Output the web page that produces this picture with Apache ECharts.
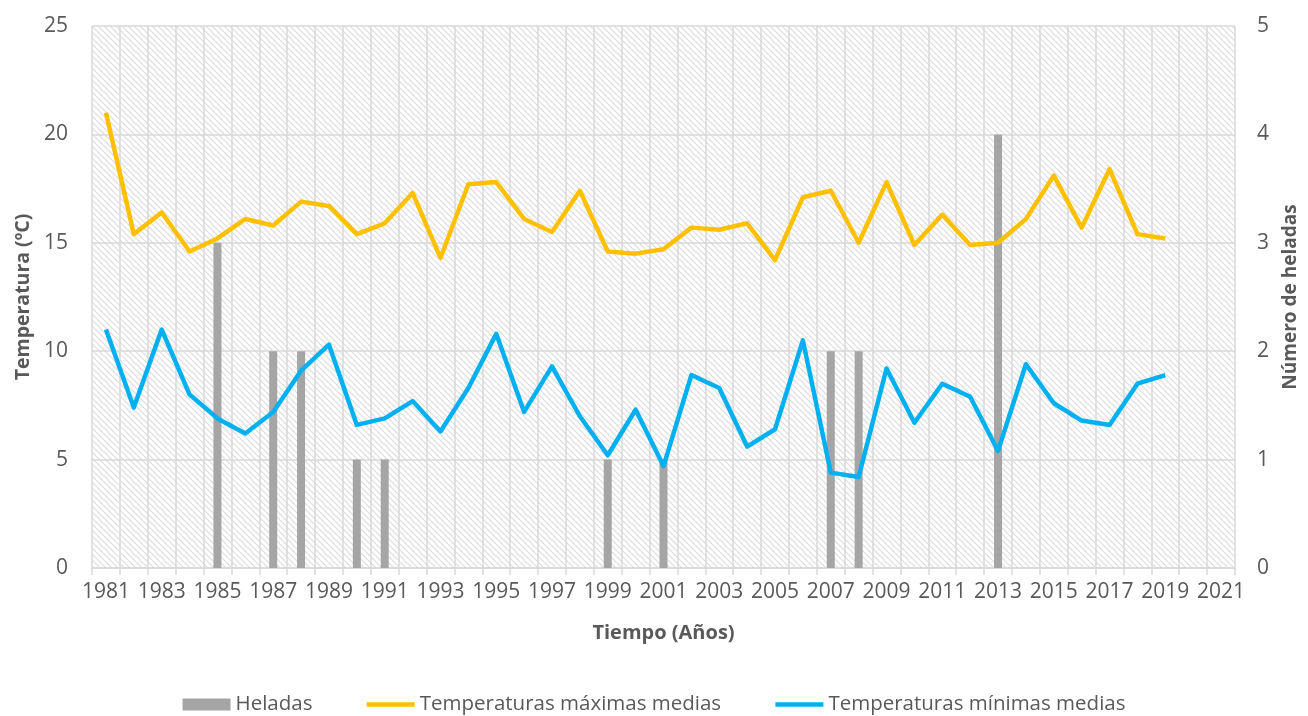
<!DOCTYPE html>
<html>
<head>
<meta charset="utf-8">
<script src="https://cdn.jsdelivr.net/npm/echarts@6/dist/echarts.min.js"></script>
<style>
  html, body { margin: 0; padding: 0; background: #fff; }
  #chart { width: 1308px; height: 716px; }
</style>
</head>
<body>
<div id="chart"></div>
<script>
  // años 1981..2021
  var years = [];
  for (var y = 1981; y <= 2021; y++) years.push(String(y));

  // número de heladas por año (solo los años con heladas)
  var heladas = {1985: 3, 1987: 2, 1988: 2, 1990: 1, 1991: 1, 1999: 1, 2001: 1, 2007: 2, 2008: 2, 2013: 4};

  var tMax = [21.0, 15.4, 16.4, 14.6, 15.2, 16.1, 15.8, 16.9, 16.7, 15.4,
              15.9, 17.3, 14.3, 17.7, 17.8, 16.1, 15.5, 17.4, 14.6, 14.5,
              14.7, 15.7, 15.6, 15.9, 14.2, 17.1, 17.4, 15.0, 17.8, 14.9,
              16.3, 14.9, 15.0, 16.1, 18.1, 15.7, 18.4, 15.4, 15.2];

  var tMin = [11.0, 7.4, 11.0, 8.0, 6.9, 6.2, 7.2, 9.1, 10.3, 6.6,
              6.9, 7.7, 6.3, 8.3, 10.8, 7.2, 9.3, 7.0, 5.2, 7.3,
              4.7, 8.9, 8.3, 5.6, 6.4, 10.5, 4.4, 4.2, 9.2, 6.7,
              8.5, 7.9, 5.4, 9.4, 7.6, 6.8, 6.6, 8.5, 8.9];

  var heladasData = years.map(function (y) { return heladas[y] !== undefined ? heladas[y] : null; });

  // patrón rayado del fondo
  var tile = document.createElement('canvas');
  tile.width = 6; tile.height = 6;
  var ctx = tile.getContext('2d');
  ctx.fillStyle = '#ffffff';
  ctx.fillRect(0, 0, 6, 6);
  ctx.strokeStyle = '#dcdcdc';
  ctx.lineWidth = 1.2;
  ctx.beginPath();
  ctx.moveTo(-1, -1); ctx.lineTo(7, 7);
  ctx.moveTo(-1, 5); ctx.lineTo(1, 7);
  ctx.moveTo(5, -1); ctx.lineTo(7, 1);
  ctx.stroke();

  var textColor = '#595959';
  var gridColor = '#d9d9d9';
  var font = '"Open Sans", sans-serif';

  var myChart = echarts.init(document.getElementById('chart'));
  var option = {
    animation: false,
    textStyle: { fontFamily: font, color: textColor },
    grid: {
      left: 92, right: 70, top: 26, bottom: 148,
      show: true,
      borderWidth: 0,
      backgroundColor: { image: tile, repeat: 'repeat' }
    },
    legend: {
      bottom: -4,
      left: 'center',
      itemGap: 52,
      itemWidth: 48,
      itemHeight: 12,
      textStyle: { fontFamily: font, fontSize: 20.5, color: textColor },
      data: [
        { name: 'Heladas', icon: 'rect' },
        { name: 'Temperaturas máximas medias', itemStyle: { opacity: 0 }, lineStyle: { width: 4.5 } },
        { name: 'Temperaturas mínimas medias', itemStyle: { opacity: 0 }, lineStyle: { width: 4.5 } }
      ]
    },
    xAxis: {
      type: 'category',
      data: years,
      boundaryGap: true,
      name: 'Tiempo (Años)',
      nameLocation: 'middle',
      nameGap: 55,
      nameTextStyle: { fontFamily: font, fontSize: 20, fontWeight: 'bold', color: textColor },
      axisLine: { lineStyle: { color: gridColor, width: 1.5 } },
      axisTick: { show: true, interval: 0, length: 7, lineStyle: { color: gridColor, width: 1.5 } },
      axisLabel: { interval: 1, margin: 14, fontSize: 21, color: textColor, fontFamily: font },
      splitLine: { show: true, interval: 0, lineStyle: { color: gridColor, width: 1.5 } }
    },
    yAxis: [
      {
        type: 'value',
        min: 0, max: 25, interval: 5,
        name: 'Temperatura (ºC)',
        nameLocation: 'middle',
        nameGap: 54,
        nameTextStyle: { fontFamily: font, fontSize: 19.5, fontWeight: 'bold', color: textColor },
        axisLine: { show: false },
        axisTick: { show: false },
        axisLabel: { margin: 24, fontSize: 21, color: textColor, fontFamily: font },
        splitLine: { show: true, lineStyle: { color: gridColor, width: 1.5 } }
      },
      {
        type: 'value',
        min: 0, max: 5, interval: 1,
        name: 'Número de heladas',
        nameLocation: 'middle',
        nameRotate: 90,
        nameGap: 46,
        nameTextStyle: { fontFamily: font, fontSize: 19, fontWeight: 'bold', color: textColor },
        axisLine: { show: false },
        axisTick: { show: false },
        axisLabel: { margin: 22, fontSize: 21, color: textColor, fontFamily: font },
        splitLine: { show: false }
      }
    ],
    series: [
      {
        name: 'Heladas',
        type: 'bar',
        yAxisIndex: 1,
        barWidth: 8,
        itemStyle: { color: '#a5a5a5' },
        data: heladasData
      },
      {
        name: 'Temperaturas máximas medias',
        type: 'line',
        symbol: 'none',
        lineStyle: { color: '#ffc000', width: 4.5, join: 'round' },
        itemStyle: { color: '#ffc000' },
        data: tMax
      },
      {
        name: 'Temperaturas mínimas medias',
        type: 'line',
        symbol: 'none',
        lineStyle: { color: '#00b0f0', width: 4.5, join: 'round' },
        itemStyle: { color: '#00b0f0' },
        data: tMin
      }
    ]
  };
  myChart.setOption(option);
</script>
</body>
</html>
